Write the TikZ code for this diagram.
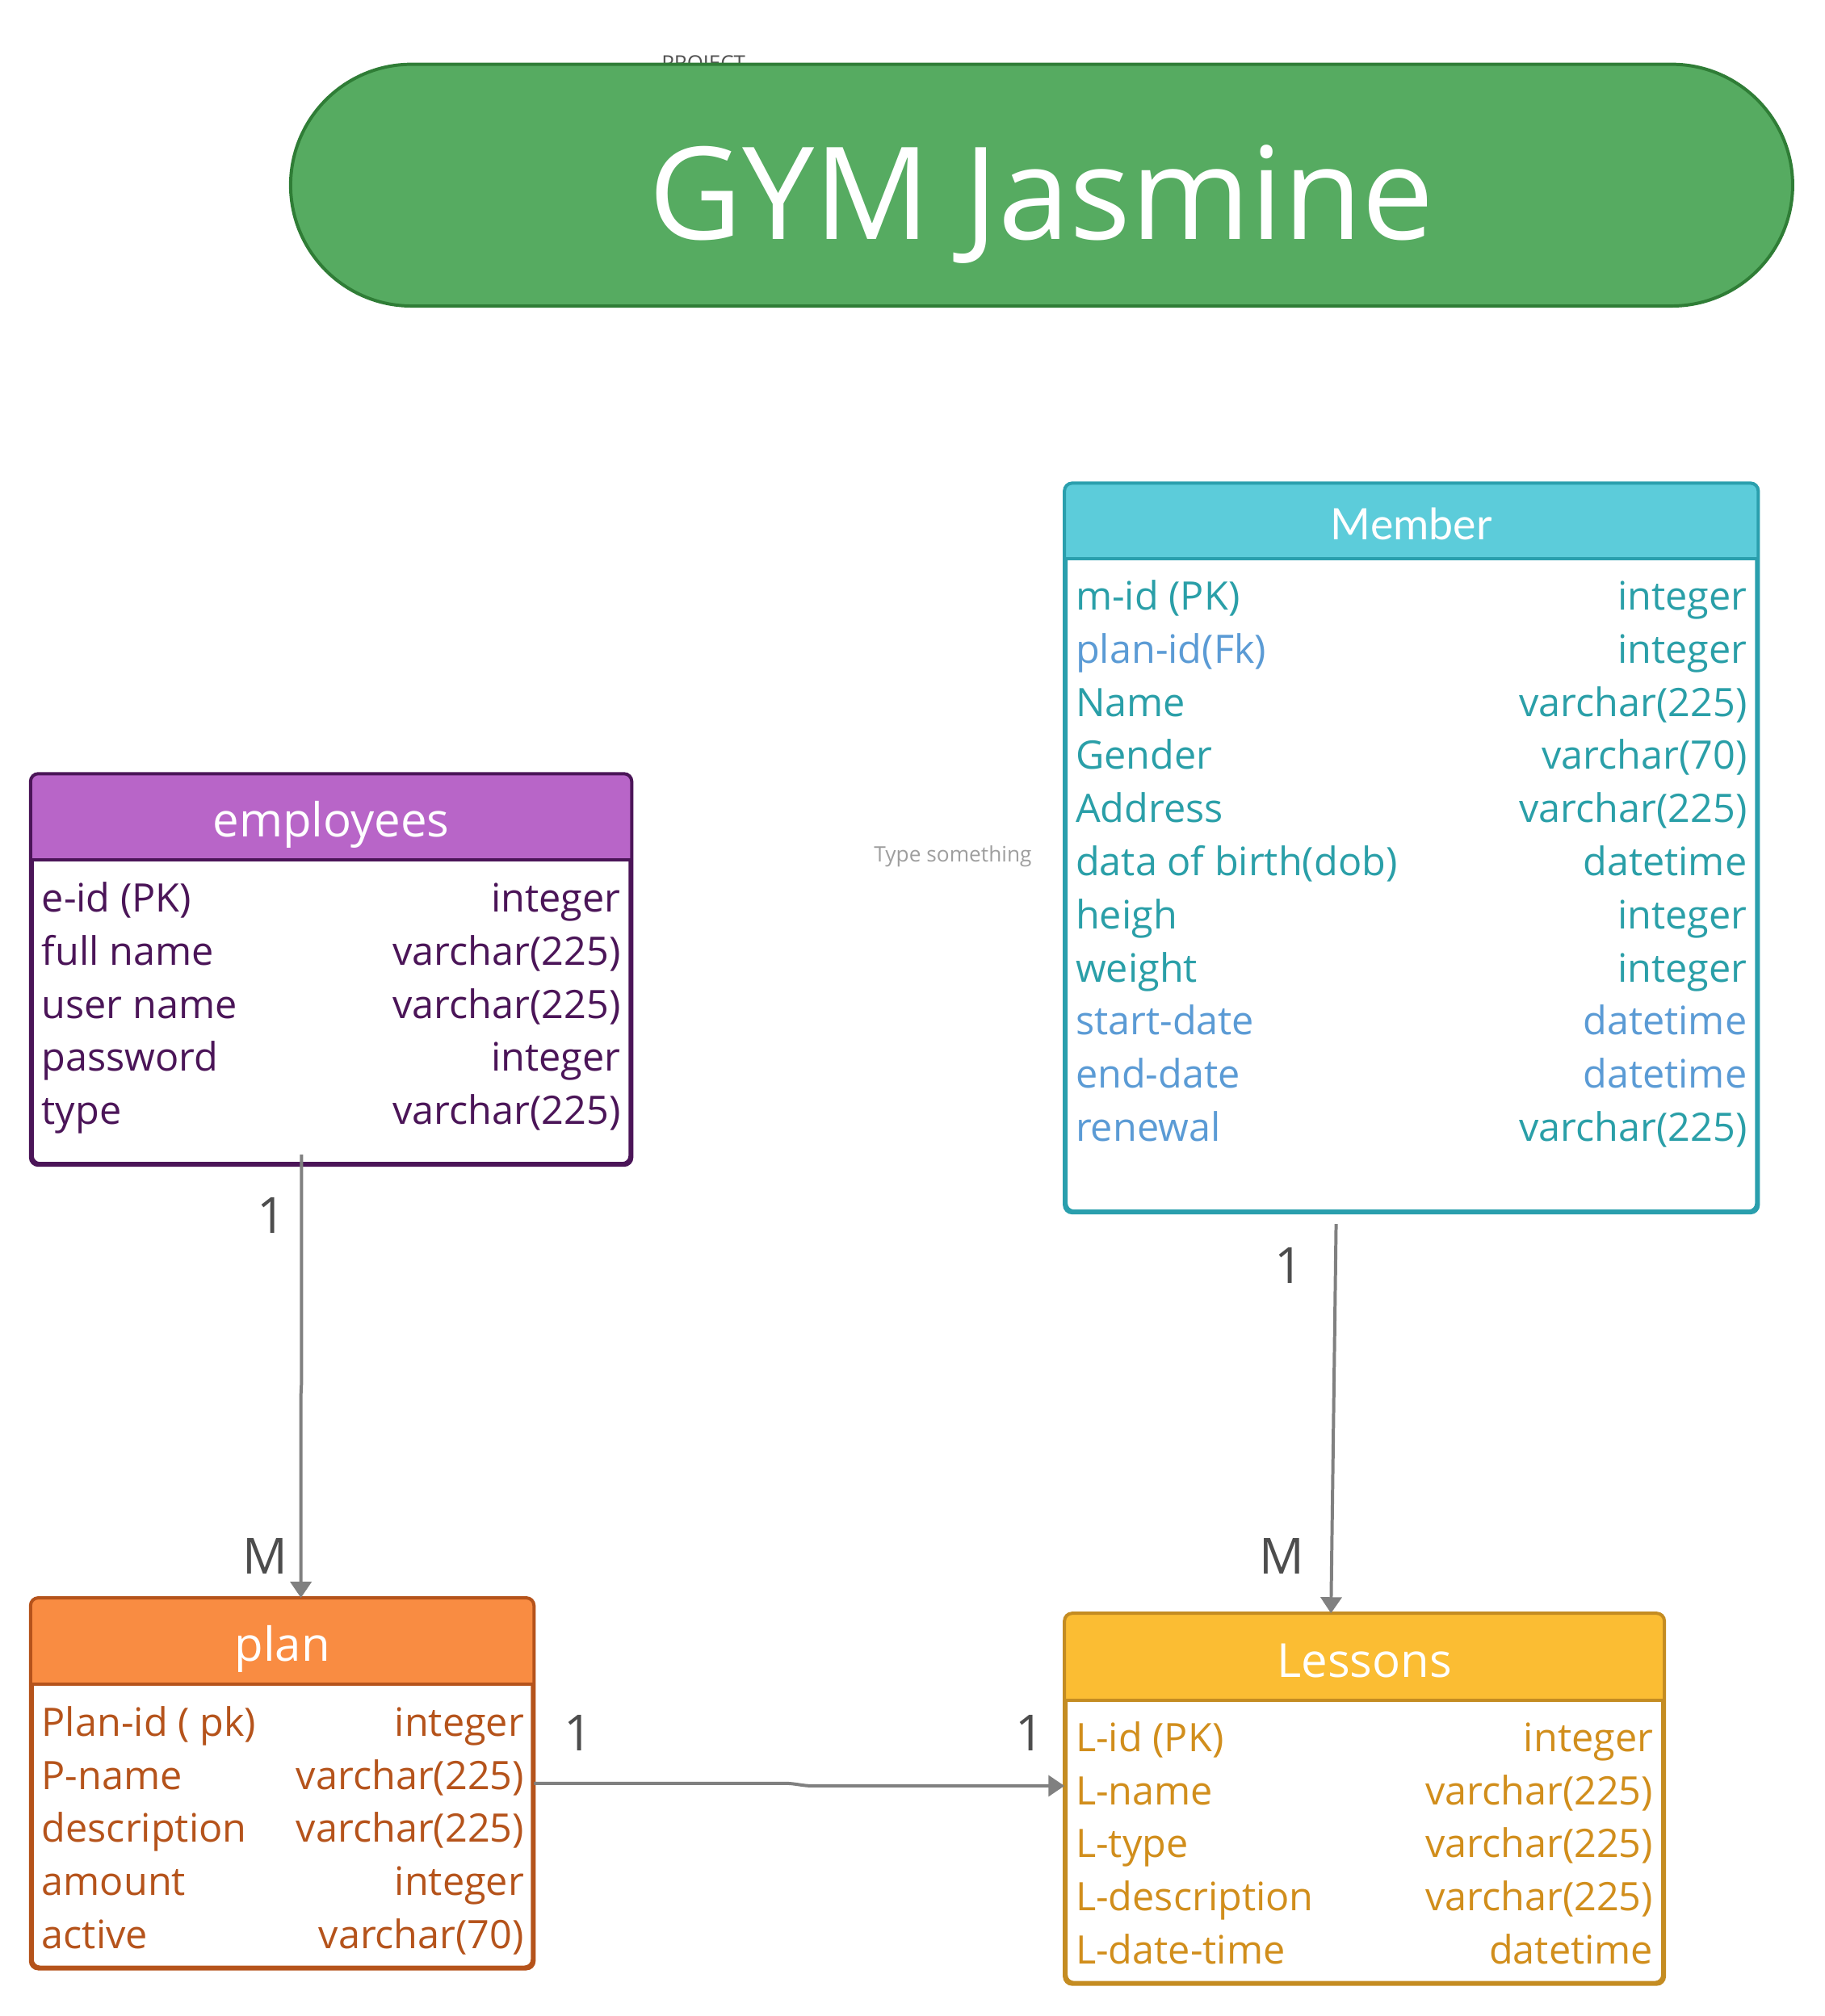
\documentclass[tikz,border=0pt]{standalone}
\usepackage{fontspec}
\setmainfont{Open Sans}
\newfontfamily\latofont{Lato}
\usetikzlibrary{arrows.meta,positioning,shapes.misc}

\definecolor{gymgreen}{HTML}{56AB61}
\definecolor{gymline}{HTML}{2F7D36}
\definecolor{empline}{HTML}{4B1558}
\definecolor{emphead}{HTML}{B865C8}
\definecolor{memline}{HTML}{2A9FAD}
\definecolor{memhead}{HTML}{5CCCDA}
\definecolor{memtext}{HTML}{2A9FA8}
\definecolor{memblue}{HTML}{5B9BD5}
\definecolor{planline}{HTML}{B5531B}
\definecolor{planhead}{HTML}{F98C42}
\definecolor{lesline}{HTML}{C48C22}
\definecolor{leshead}{HTML}{FBBD33}
\definecolor{lestext}{HTML}{D18E1C}
\definecolor{connline}{HTML}{808080}
\definecolor{cardtext}{HTML}{4D4D4D}

\newcommand\tablehead[4]{%
  \begin{scope}
    \clip[rounded corners=2.4pt] (#1.north west) rectangle (#1.south east);
    \fill[#3] (#1.north west) rectangle ([yshift=-#2]#1.north east);
  \end{scope}
  \draw[#4,line width=1pt,rounded corners=2.4pt] (#1.north west) rectangle (#1.south east);
  \draw[#4,line width=1pt] ([yshift=-#2]#1.north west) -- ([yshift=-#2]#1.north east);
}

\begin{document}
\begin{tikzpicture}
[x=0.4pt,y=-0.4pt,
tbl/.style={rectangle,draw,line width=1pt,rounded corners=2.4pt,fill=white,inner sep=0pt},
head/.style={font=\fontsize{14.6pt}{16pt}\selectfont,text=white,anchor=base},
field/.style={font=\fontsize{12.2pt}{14pt}\selectfont,inner sep=0pt,anchor=base west},
ftype/.style={font=\fontsize{12.2pt}{14pt}\selectfont,inner sep=0pt,anchor=base east},
conn/.style={draw=connline,line width=1pt,-{Triangle[length=5pt,width=6.5pt]}},
card/.style={font=\fontsize{15.5pt}{17pt}\selectfont,text=cardtext,anchor=base}]
\useasboundingbox (0,0) rectangle (1419,1568);

\node[font=\fontsize{6.5pt}{7pt}\selectfont,text=black!68,anchor=base] (project) at (547,55) {PROJECT};
\node[draw=gymline,fill=gymgreen,line width=1pt,rounded corners=37.6pt,minimum width=467.2pt,minimum height=75.2pt] (banner) at (810,144) {};
\node[font=\fontsize{40pt}{44pt}\selectfont,text=white,anchor=base] (banner text) at (810,186) {GYM Jasmine};

\node[font=\fontsize{6.6pt}{8pt}\selectfont,text=black!38] (hint) at (741,666) {Type something};

\node[tbl,draw=empline,minimum width=186pt,minimum height=120.8pt] (employees) at (257.5,754) {};
\tablehead{employees}{26.8pt}{emphead}{empline}
\node[head] (employees title) at (257.5,651) {employees};
\foreach \f/\t [count=\i] in {e-id (PK)/integer,full name/varchar(225),user name/varchar(225),password/integer,type/varchar(225)}{
  \node[field,text=empline] (emp-f\i) at (32,{709.5+41.2*(\i-1)}) {\f};
  \node[ftype,text=empline] (emp-t\i) at (483,{709.5+41.2*(\i-1)}) {\t};
}

\node[tbl,draw=memline,minimum width=214.8pt,minimum height=226pt] (member) at (1097.5,659.5) {};
\tablehead{member}{23.6pt}{memhead}{memline}
\node[head,font=\latofont\fontsize{13.5pt}{15pt}\selectfont] (member title) at (1097.5,420) {Member};
\foreach \f/\fc/\t/\tc [count=\i] in {m-id (PK)/memtext/integer/memtext,plan-id(Fk)/memblue/integer/memtext,Name/memtext/varchar(225)/memtext,Gender/memtext/varchar(70)/memtext,Address/memtext/varchar(225)/memtext,data of birth(dob)/memtext/datetime/memtext,heigh/memtext/integer/memtext,weight/memtext/integer/memtext,start-date/memblue/datetime/memblue,end-date/memblue/datetime/memblue,renewal/memblue/varchar(225)/memtext}{
  \node[field,text=\fc] (mem-f\i) at (836,{474.5+41.3*(\i-1)}) {\f};
  \node[ftype,text=\tc] (mem-t\i) at (1359,{474.5+41.3*(\i-1)}) {\t};
}

\node[tbl,draw=planline,minimum width=155.6pt,minimum height=114.4pt] (plan) at (219.5,1387) {};
\tablehead{plan}{26.8pt}{planhead}{planline}
\node[head] (plan title) at (219.5,1292) {plan};
\foreach \f/\t [count=\i] in {Plan-id ( pk)/integer,P-name/varchar(225),description/varchar(225),amount/integer,active/varchar(70)}{
  \node[field,text=planline] (plan-f\i) at (32,{1350.5+41.2*(\i-1)}) {\f};
  \node[ftype,text=planline] (plan-t\i) at (408,{1350.5+41.2*(\i-1)}) {\t};
}

\node[tbl,draw=lesline,minimum width=185.6pt,minimum height=114.4pt] (lessons) at (1061,1399) {};
\tablehead{lessons}{27.2pt}{leshead}{lesline}
\node[head] (lessons title) at (1061,1304.5) {Lessons};
\foreach \f/\t [count=\i] in {L-id (PK)/integer,L-name/varchar(225),L-type/varchar(225),L-description/varchar(225),L-date-time/datetime}{
  \node[field,text=lestext] (les-f\i) at (836,{1362.5+41.2*(\i-1)}) {\f};
  \node[ftype,text=lestext] (les-t\i) at (1286,{1362.5+41.2*(\i-1)}) {\t};
}

\coordinate (emp out) at (234.5,898);
\draw[conn] (emp out) -- (234.5,1075) -- (234,1085) -- ([xshift=5.8pt]plan.north);
\coordinate (mem out) at (1039,952);
\draw[conn] (mem out) -- ([xshift=-10.4pt]lessons.north);
\draw[conn] (plan.east) -- (610,1387) to[out=0,in=180] (632,1389) -- ([yshift=4pt]lessons.west);

\node[card] (emp one) at (211,959) {1};
\node[card] (plan many) at (206,1224) {M};
\node[card] (mem one) at (1002,998) {1};
\node[card] (les many) at (997,1224) {M};
\node[card] (plan one) at (450,1362) {1};
\node[card] (les one) at (801,1362) {1};
\end{tikzpicture}
\end{document}
